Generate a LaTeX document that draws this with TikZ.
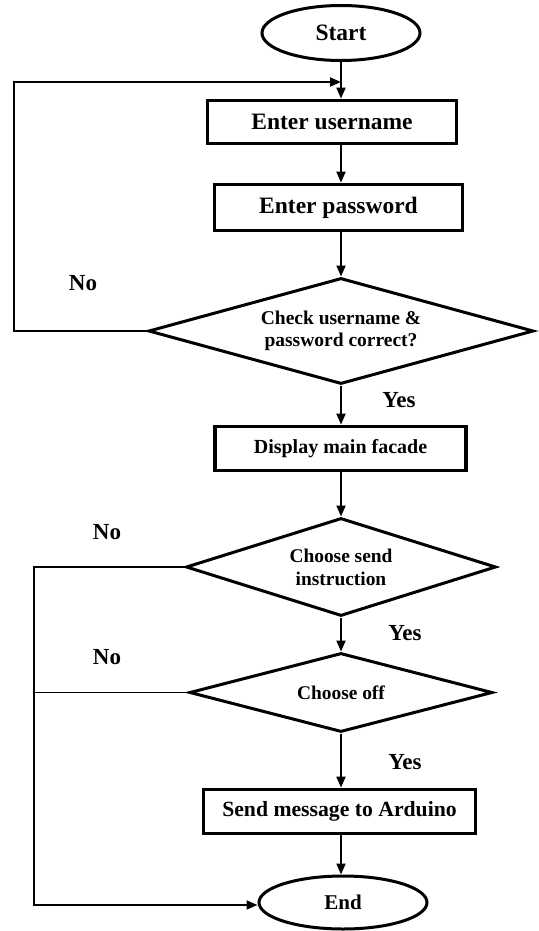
\documentclass[tikz,border=0pt]{standalone}
\usepackage{fontspec}
\setmainfont{Liberation Serif}
\usetikzlibrary{shapes.geometric,arrows.meta}
\tikzset{
  term/.style={draw, ellipse, line width=3pt, inner sep=0pt},
  proc/.style={draw, rectangle, line width=3.8pt, inner sep=0pt},
  dec/.style={draw, diamond, line width=3pt, inner sep=0pt, align=center},
  arr/.style={-{Triangle[length=11pt,width=9pt]}, line width=2pt},
  plain/.style={line width=2pt},
  loopline/.style={line width=1.8pt},
  lab/.style={font=\fontsize{23}{28}\selectfont\bfseries}
}
\begin{document}
\begin{tikzpicture}[x=1pt,y=-1pt]
\useasboundingbox (0,0) rectangle (538,931);
\coordinate (ax) at (341,0);
\node[term, minimum width=158pt, minimum height=55pt, font=\fontsize{23.5}{28}\selectfont\bfseries] (start) at (341,33) {Start};
\node[proc, minimum width=249pt, minimum height=43pt, font=\fontsize{23.5}{28}\selectfont\bfseries] (user) at (332,122) {Enter username};
\node[proc, minimum width=248pt, minimum height=46pt, font=\fontsize{23.5}{28}\selectfont\bfseries] (pass) at (338.5,207.5) {Enter password};
\node[dec, minimum width=385pt, minimum height=106pt, shape aspect=3.6, font=\fontsize{19.5}{22}\selectfont\bfseries] (d1) at (341,331) {Check username \&\\password correct?};
\node[proc, minimum width=251pt, minimum height=44pt, font=\fontsize{20}{24}\selectfont\bfseries] (disp) at (340.5,448.5) {Display main facade};
\node[dec, minimum width=310pt, minimum height=98pt, shape aspect=3.2, font=\fontsize{19.4}{23}\selectfont\bfseries] (d2) at (341,567) {Choose send\\instruction};
\node[dec, minimum width=303pt, minimum height=79pt, shape aspect=3.8, font=\fontsize{19.4}{23}\selectfont\bfseries] (d3) at (341,692.5) {Choose off};
\node[proc, minimum width=272pt, minimum height=44pt, font=\fontsize{21.7}{26}\selectfont\bfseries] (send) at (339.5,811.5) {Send message to Arduino};
\node[term, minimum width=168pt, minimum height=53pt, font=\fontsize{21}{26}\selectfont\bfseries] (end) at (343,902.5) {End};

\node[lab] (no1) at (83,283) {No};
\node[lab] (no2) at (107,532) {No};
\node[lab] (no3) at (107,657) {No};
\node[lab] (yes1) at (399,400) {Yes};
\node[lab] (yes2) at (405,633) {Yes};
\node[lab] (yes3) at (405,762) {Yes};

\draw[arr] (start.south -| ax) -- (user.north -| ax);
\draw[arr] (user.south -| ax) -- (pass.north -| ax);
\draw[arr] (pass.south -| ax) -- (d1.north);
\draw[arr] (d1.south) -- (disp.north -| ax);
\draw[arr] (disp.south -| ax) -- (d2.north);
\draw[arr] (d2.south) -- (d3.north);
\draw[arr] (d3.south) -- (send.north -| ax);
\draw[arr] (send.south -| ax) -- (end.north -| ax);

\coordinate (L1) at (14,82);
\draw[loopline, -{Triangle[length=11pt,width=9pt]}] (d1.west) -| (L1) -- (L1 -| ax);
\coordinate (L2) at (34,905);
\draw[loopline, -{Triangle[length=11pt,width=9pt]}] (d2.west) -| (L2) -- (L2 -| end.west);
\draw[loopline] (d3.west) -- (d3.west -| L2);
\end{tikzpicture}
\end{document}
